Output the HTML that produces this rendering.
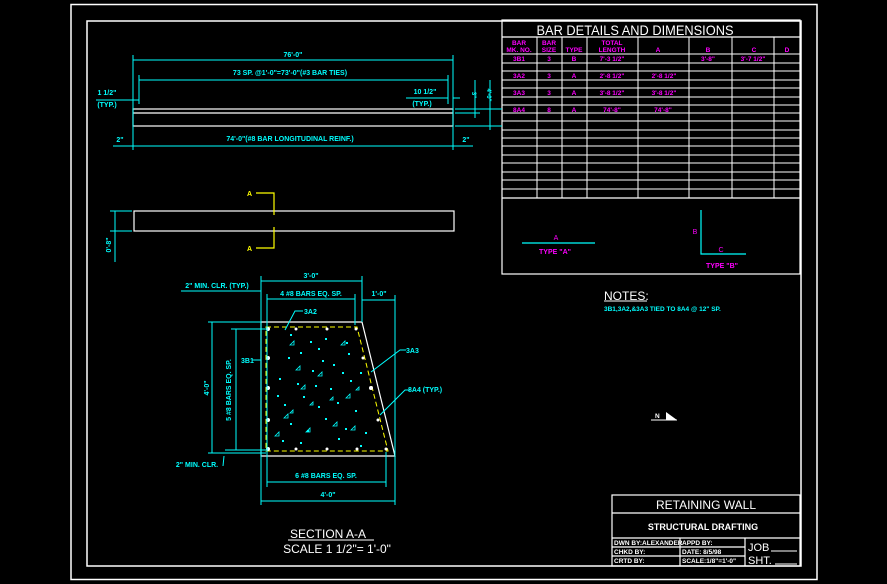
<!DOCTYPE html>
<html><head><meta charset="utf-8"><style>
html,body{margin:0;padding:0;background:#000;}
svg{display:block;}
text{font-family:"Liberation Sans",sans-serif;}
</style></head><body>
<svg width="887" height="584" viewBox="0 0 887 584" xmlns="http://www.w3.org/2000/svg">
<rect width="887" height="584" fill="#000"/>
<rect x="71" y="4.5" width="746" height="575" fill="none" stroke="#fff" stroke-width="1.5"/>
<rect x="87" y="21" width="714" height="545" fill="none" stroke="#fff" stroke-width="1.5"/>

<g stroke="#fff" stroke-width="1.2" fill="none">
<rect x="502" y="20" width="298" height="254"/>
<line x1="502" y1="37" x2="800" y2="37"/>
<line x1="502" y1="198" x2="800" y2="198"/>
</g>
<g stroke="#fff" stroke-width="1">
<line x1="502" y1="54" x2="800" y2="54"/><line x1="502" y1="63" x2="800" y2="63"/>
<line x1="502" y1="71" x2="800" y2="71"/><line x1="502" y1="80" x2="800" y2="80"/>
<line x1="502" y1="88" x2="800" y2="88"/><line x1="502" y1="97" x2="800" y2="97"/>
<line x1="502" y1="105" x2="800" y2="105"/><line x1="502" y1="113" x2="800" y2="113"/>
<line x1="502" y1="121" x2="800" y2="121"/><line x1="502" y1="130" x2="800" y2="130"/>
<line x1="502" y1="138" x2="800" y2="138"/><line x1="502" y1="146" x2="800" y2="146"/>
<line x1="502" y1="155" x2="800" y2="155"/><line x1="502" y1="163" x2="800" y2="163"/>
<line x1="502" y1="172" x2="800" y2="172"/><line x1="502" y1="180" x2="800" y2="180"/>
<line x1="502" y1="189" x2="800" y2="189"/>
<line x1="537" y1="37" x2="537" y2="198"/><line x1="562" y1="37" x2="562" y2="198"/>
<line x1="587" y1="37" x2="587" y2="198"/><line x1="638" y1="37" x2="638" y2="198"/>
<line x1="689" y1="37" x2="689" y2="198"/><line x1="732" y1="37" x2="732" y2="198"/>
<line x1="774" y1="37" x2="774" y2="198"/>
</g>
<text x="635" y="35" fill="#fff" font-size="14" text-anchor="middle" textLength="197" lengthAdjust="spacingAndGlyphs">BAR DETAILS AND DIMENSIONS</text>
<g fill="#f0f" font-size="6.5" font-weight="bold" text-anchor="middle">
<text x="519" y="45">BAR</text><text x="519" y="52">MK. NO.</text>
<text x="549" y="45">BAR</text><text x="549" y="52">SIZE</text>
<text x="574" y="52">TYPE</text>
<text x="612" y="45">TOTAL</text><text x="612" y="52">LENGTH</text>
<text x="658" y="52">A</text><text x="708" y="52">B</text><text x="754" y="52">C</text><text x="787" y="52">D</text>
<text x="519" y="61">3B1</text><text x="549" y="61">3</text><text x="574" y="61">B</text><text x="612" y="61">7'-3 1/2"</text><text x="708" y="61">3'-8"</text><text x="753" y="61">3'-7 1/2"</text>
<text x="519" y="78">3A2</text><text x="549" y="78">3</text><text x="574" y="78">A</text><text x="612" y="78">2'-8 1/2"</text><text x="664" y="78">2'-8 1/2"</text>
<text x="519" y="95">3A3</text><text x="549" y="95">3</text><text x="574" y="95">A</text><text x="612" y="95">3'-8 1/2"</text><text x="664" y="95">3'-8 1/2"</text>
<text x="519" y="112">8A4</text><text x="549" y="112">8</text><text x="574" y="112">A</text><text x="612" y="112">74'-8"</text><text x="663" y="112">74'-8"</text>
</g>
<line x1="522" y1="243" x2="595" y2="243" stroke="#0ff" stroke-width="1.2"/>
<text x="556" y="240" fill="#f0f" font-size="7" text-anchor="middle">A</text>
<text x="555" y="254" fill="#f0f" font-size="7" font-weight="bold" text-anchor="middle">TYPE "A"</text>
<polyline points="701,210 701,254 746,254" fill="none" stroke="#0ff" stroke-width="1.2"/>
<text x="695" y="234" fill="#f0f" font-size="7" text-anchor="middle">B</text>
<text x="721" y="252" fill="#f0f" font-size="7" text-anchor="middle">C</text>
<text x="722" y="268" fill="#f0f" font-size="7" font-weight="bold" text-anchor="middle">TYPE "B"</text>

<text x="604" y="300" fill="#fff" font-size="12">NOTES:</text>
<line x1="604" y1="301" x2="647" y2="301" stroke="#fff" stroke-width="1"/>
<text x="604" y="311" fill="#0ff" font-size="6.5" font-weight="bold">3B1,3A2,&amp;3A3 TIED TO 8A4 @ 12" SP.</text>
<text x="655" y="418" fill="#fff" font-size="6.5" font-weight="bold">N</text>
<polygon points="666,412 666,420 677,420" fill="#fff"/>
<line x1="651" y1="420" x2="677" y2="420" stroke="#fff" stroke-width="1"/>

<g stroke="#fff" stroke-width="1.2" fill="none">
<rect x="133" y="109" width="320" height="17"/>
<line x1="133" y1="113" x2="453" y2="113"/>
</g>
<g stroke="#0ff" stroke-width="1" fill="none">
<line x1="133" y1="55" x2="133" y2="150"/><line x1="453" y1="55" x2="453" y2="150"/>
<line x1="133" y1="60" x2="453" y2="60"/>
<line x1="139" y1="75" x2="139" y2="104"/><line x1="448" y1="75" x2="448" y2="104"/>
<line x1="139" y1="80" x2="448" y2="80"/>
<line x1="96" y1="100" x2="139" y2="100"/>
<line x1="406" y1="98" x2="448" y2="98"/><line x1="453" y1="98" x2="460" y2="98"/>
<line x1="113" y1="146" x2="473" y2="146"/>
<line x1="455" y1="109" x2="502" y2="109"/><line x1="455" y1="126" x2="502" y2="126"/>
<line x1="455" y1="113" x2="480" y2="113"/>
<line x1="475" y1="80" x2="475" y2="118"/><line x1="490" y1="80" x2="490" y2="130"/>
</g>
<g fill="#0ff" font-size="7" font-weight="bold">
<text x="293" y="57" text-anchor="middle">76'-0"</text>
<text x="290" y="75" text-anchor="middle">73 SP. @1'-0"=73'-0"(#3 BAR TIES)</text>
<text x="107" y="95" text-anchor="middle">1 1/2"</text>
<text x="107" y="107" text-anchor="middle">(TYP.)</text>
<text x="425" y="94" text-anchor="middle">10 1/2"</text>
<text x="422" y="106" text-anchor="middle">(TYP.)</text>
<text x="120" y="142" text-anchor="middle">2"</text>
<text x="466" y="142" text-anchor="middle">2"</text>
<text x="290" y="141" text-anchor="middle">74'-0"(#8 BAR LONGITUDINAL REINF.)</text>
<text transform="translate(472,95) rotate(90)" font-size="6" text-anchor="middle">3"</text>
<text transform="translate(487,95) rotate(90)" font-size="6" text-anchor="middle">4'-0"</text>
</g>

<rect x="134" y="211" width="320" height="20" fill="none" stroke="#fff" stroke-width="1.2"/>
<g stroke="#0ff" stroke-width="1" fill="none">
<line x1="110" y1="211" x2="132" y2="211"/><line x1="110" y1="231" x2="132" y2="231"/>
<line x1="115" y1="211" x2="115" y2="262"/>
</g>
<text transform="translate(111,245) rotate(-90)" fill="#0ff" font-size="7" font-weight="bold" text-anchor="middle">0'-8"</text>
<g stroke="#ff0" stroke-width="1.2" fill="none">
<polyline points="256,193 274,193 274,215"/>
<polyline points="256,248 274,248 274,227"/>
</g>
<g fill="#ff0" font-size="7" font-weight="bold">
<text x="247" y="196">A</text><text x="247" y="251">A</text>
</g>

<polygon points="261,322 362,322 395,456 261,456" fill="none" stroke="#fff" stroke-width="1.2"/>
<polygon points="266,327 357,327 388,451 266,451" fill="none" stroke="#ff0" stroke-width="1" stroke-dasharray="5,3"/>
<g fill="#fff">
<circle cx="268" cy="329" r="2"/><circle cx="296" cy="329" r="1.5"/><circle cx="327" cy="329" r="1.5"/><circle cx="356" cy="329" r="1.5"/>
<circle cx="268" cy="358" r="2"/><circle cx="268" cy="388" r="2"/><circle cx="268" cy="420" r="2"/><circle cx="268" cy="449" r="2"/>
<circle cx="296" cy="449" r="1.5"/><circle cx="327" cy="449" r="1.5"/><circle cx="357" cy="449" r="1.5"/><circle cx="386" cy="449" r="1.5"/>
<circle cx="363" cy="358" r="1.5"/><circle cx="371" cy="388" r="2"/><circle cx="378" cy="420" r="1.5"/>
</g>
<g fill="#0ff">
<rect x="290" y="334" width="2" height="2"/><rect x="310" y="341" width="2" height="2"/><rect x="325" y="338" width="2" height="2"/>
<rect x="346" y="342" width="2" height="2"/><rect x="288" y="357" width="2" height="2"/><rect x="300" y="352" width="2" height="2"/>
<rect x="318" y="348" width="2" height="2"/><rect x="333" y="364" width="2" height="2"/><rect x="348" y="353" width="2" height="2"/>
<rect x="279" y="378" width="2" height="2"/><rect x="297" y="383" width="2" height="2"/><rect x="312" y="370" width="2" height="2"/>
<rect x="330" y="388" width="2" height="2"/><rect x="350" y="380" width="2" height="2"/><rect x="360" y="372" width="2" height="2"/>
<rect x="284" y="404" width="2" height="2"/><rect x="303" y="396" width="2" height="2"/><rect x="318" y="406" width="2" height="2"/>
<rect x="337" y="402" width="2" height="2"/><rect x="355" y="410" width="2" height="2"/><rect x="290" y="423" width="2" height="2"/>
<rect x="307" y="430" width="2" height="2"/><rect x="325" y="418" width="2" height="2"/><rect x="345" y="428" width="2" height="2"/>
<rect x="365" y="432" width="2" height="2"/><rect x="282" y="440" width="2" height="2"/><rect x="300" y="442" width="2" height="2"/>
<rect x="338" y="438" width="2" height="2"/><rect x="360" y="445" width="2" height="2"/><rect x="315" y="385" width="2" height="2"/>
<rect x="342" y="372" width="2" height="2"/><rect x="277" y="395" width="2" height="2"/><rect x="322" y="360" width="2" height="2"/>
</g>
<g fill="none" stroke="#0ff" stroke-width="0.8">
<path d="M290,345 l4,-4 v4 z"/><path d="M341,345 l4,-4 v4 z"/><path d="M296,370 l4,-4 v4 z"/><path d="M301,389 l4,-4 v4 z"/>
<path d="M346,398 l4,-4 v4 z"/><path d="M330,400 l3,-3 v3 z"/><path d="M284,418 l4,-4 v4 z"/><path d="M306,432 l4,-4 v4 z"/>
<path d="M333,426 l4,-4 v4 z"/><path d="M351,430 l4,-4 v4 z"/><path d="M275,436 l4,-4 v4 z"/><path d="M318,376 l4,-4 v4 z"/>
<path d="M356,390 l3,-3 v3 z"/><path d="M290,413 l3,-3 v3 z"/><path d="M310,405 l3,-3 v3 z"/>
</g>
<g stroke="#0ff" stroke-width="1" fill="none">
<line x1="261" y1="276" x2="261" y2="505"/><line x1="362" y1="276" x2="362" y2="322"/><line x1="395" y1="295" x2="395" y2="505"/>
<line x1="261" y1="281" x2="362" y2="281"/>
<line x1="267" y1="294" x2="267" y2="487"/><line x1="355" y1="294" x2="355" y2="325"/><line x1="386" y1="452" x2="386" y2="487"/>
<line x1="267" y1="299" x2="355" y2="299"/>
<line x1="362" y1="300" x2="395" y2="300"/>
<line x1="181" y1="291" x2="261" y2="291"/>
<line x1="267" y1="482" x2="386" y2="482"/>
<line x1="261" y1="501" x2="395" y2="501"/>
<line x1="208" y1="322" x2="261" y2="322"/><line x1="208" y1="453" x2="266" y2="453"/>
<line x1="212" y1="322" x2="212" y2="453"/>
<line x1="231" y1="329" x2="266" y2="329"/><line x1="225" y1="450" x2="266" y2="450"/>
<line x1="236" y1="329" x2="236" y2="450"/>
<line x1="252" y1="360" x2="261" y2="360"/>
<polyline points="285,330 295,311 303,311"/>
<polyline points="371,372 400,350 406,350"/>
<polyline points="380,415 405,390 410,390"/>
<polyline points="223,466 224,456 224,456"/>
</g>
<g fill="#0ff" font-size="7" font-weight="bold">
<text x="311" y="278" text-anchor="middle">3'-0"</text>
<text x="311" y="296" text-anchor="middle">4 #8 BARS EQ. SP.</text>
<text x="379" y="296" text-anchor="middle">1'-0"</text>
<text x="217" y="288" text-anchor="middle">2" MIN. CLR. (TYP.)</text>
<text x="304" y="314">3A2</text>
<text x="406" y="353">3A3</text>
<text x="408" y="392">8A4 (TYP.)</text>
<text x="241" y="363">3B1</text>
<text x="197" y="467" text-anchor="middle">2" MIN. CLR.</text>
<text x="326" y="478" text-anchor="middle">6 #8 BARS EQ. SP.</text>
<text x="328" y="497" text-anchor="middle">4'-0"</text>
<text transform="translate(209,388) rotate(-90)" text-anchor="middle">4'-0"</text>
<text transform="translate(231,390) rotate(-90)" text-anchor="middle">5 #8 BARS EQ. SP.</text>
</g>
<text x="328" y="538" fill="#fff" font-size="12" text-anchor="middle">SECTION A-A</text>
<line x1="288" y1="540" x2="374" y2="540" stroke="#fff" stroke-width="1"/>
<text x="337" y="553" fill="#fff" font-size="12" text-anchor="middle">SCALE 1 1/2"= 1'-0"</text>

<g stroke="#fff" stroke-width="1.2" fill="none">
<rect x="612" y="495" width="188" height="71"/>
<line x1="612" y1="513" x2="800" y2="513"/>
<line x1="612" y1="538" x2="800" y2="538"/>
<line x1="680" y1="538" x2="680" y2="566"/>
<line x1="745" y1="538" x2="745" y2="566"/>
<line x1="612" y1="547" x2="745" y2="547"/>
<line x1="612" y1="556" x2="745" y2="556"/>
</g>
<text x="706" y="509" fill="#fff" font-size="12" text-anchor="middle">RETAINING WALL</text>
<text x="703" y="530" fill="#fff" font-size="9" font-weight="bold" text-anchor="middle">STRUCTURAL DRAFTING</text>
<g fill="#fff" font-size="6.5" font-weight="bold">
<text x="614" y="545">DWN BY:ALEXANDER</text><text x="682" y="545">APPD BY:</text>
<text x="614" y="554">CHKD BY:</text><text x="682" y="554">DATE:   8/5/98</text>
<text x="614" y="563">CRTD BY:</text><text x="682" y="563">SCALE:1/8"=1'-0"</text>
</g>
<g fill="#fff" font-size="11">
<text x="748" y="551">JOB</text><text x="748" y="564">SHT.</text>
</g>
<g stroke="#fff" stroke-width="1">
<line x1="771" y1="551" x2="797" y2="551"/><line x1="775" y1="564" x2="797" y2="564"/>
</g>
</svg>
</body></html>
